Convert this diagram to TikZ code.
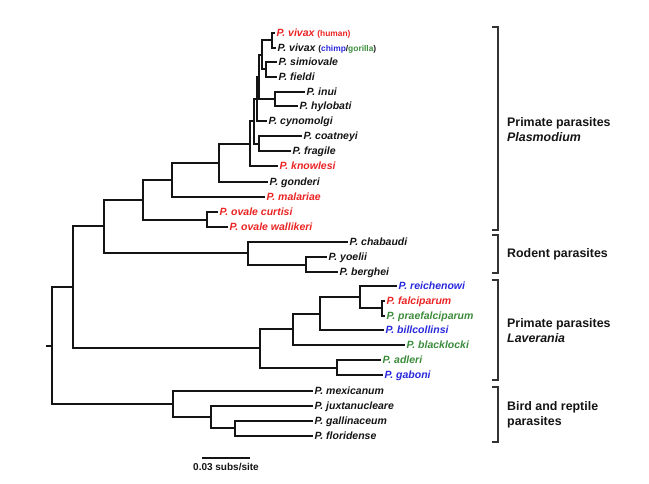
\documentclass[tikz,border=0pt]{standalone}
\usepackage{fontspec}
\setmainfont{Liberation Sans}
\definecolor{pred}{RGB}{235,35,35}
\definecolor{pblue}{RGB}{40,40,220}
\definecolor{pgreen}{RGB}{60,140,60}
\definecolor{ink}{RGB}{20,20,20}
\begin{document}
\begin{tikzpicture}[x=1pt,y=-1pt,
  tree/.style={line width=2.8pt,ink,line join=miter},
  brk/.style={line width=2pt,black!80,line join=miter},
  leaf/.style={anchor=west,inner xsep=1.5pt,inner ysep=0pt,text height=7.4pt,text depth=0.6pt,
    font=\fontsize{10.5}{12}\selectfont\bfseries\itshape,text=ink},
  grp/.style={anchor=west,align=left,inner sep=0pt,text=ink,
    font=\fontsize{12.4}{15}\selectfont\bfseries}]
\useasboundingbox (0,0) rectangle (649,483);
\newcommand{\smf}{\fontsize{8.4}{10}\selectfont\upshape}
% leaves
\node[leaf,text=pred] (vh) at (275,33) {P. vivax {\smf(human)}};
\node[leaf] (vc) at (276,48) {P. vivax {\smf(\textcolor{pblue}{chimp}/\textcolor{pgreen}{gorilla})}};
\node[leaf] (sim) at (277,62) {P. simiovale};
\node[leaf] (fie) at (277,77) {P. fieldi};
\node[leaf] (inu) at (305,92) {P. inui};
\node[leaf] (hyl) at (298,106) {P. hylobati};
\node[leaf] (cyn) at (267,121) {P. cynomolgi};
\node[leaf] (coa) at (302,136) {P. coatneyi};
\node[leaf] (fra) at (291,151) {P. fragile};
\node[leaf,text=pred] (kno) at (278,166) {P. knowlesi};
\node[leaf] (gon) at (268,182) {P. gonderi};
\node[leaf,text=pred] (mal) at (265,197) {P. malariae};
\node[leaf,text=pred] (ovc) at (218,212) {P. ovale curtisi};
\node[leaf,text=pred] (ovw) at (228,227) {P. ovale wallikeri};
\node[leaf] (cha) at (348,242) {P. chabaudi};
\node[leaf] (yoe) at (327,257) {P. yoelii};
\node[leaf] (ber) at (338,272) {P. berghei};
\node[leaf,text=pblue] (rei) at (397,286) {P. reichenowi};
\node[leaf,text=pred] (fal) at (385,301) {P. falciparum};
\node[leaf,text=pgreen] (pra) at (385,316) {P. praefalciparum};
\node[leaf,text=pblue] (bil) at (384,330) {P. billcollinsi};
\node[leaf,text=pgreen] (bla) at (405,345) {P. blacklocki};
\node[leaf,text=pgreen] (adl) at (381,360) {P. adleri};
\node[leaf,text=pblue] (gab) at (383,375) {P. gaboni};
\node[leaf] (mex) at (313,391) {P. mexicanum};
\node[leaf] (jux) at (313,406) {P. juxtanucleare};
\node[leaf] (gal) at (313,421) {P. gallinaceum};
\node[leaf] (flo) at (313,436) {P. floridense};
% internal nodes
\coordinate (vv) at (272,40);
\coordinate (sf) at (266,69);
\coordinate (V) at (262,55);
\coordinate (ih) at (275,99);
\coordinate (Na) at (259,77);
\coordinate (Nb) at (257,99);
\coordinate (cf) at (259,144);
\coordinate (Nc) at (254,121);
\coordinate (N1) at (250,144);
\coordinate (Ng) at (219,163);
\coordinate (Nm) at (172,180);
\coordinate (ov) at (207,220);
\coordinate (Np) at (143,200);
\coordinate (rod2) at (306,265);
\coordinate (rod) at (248,253);
\coordinate (Nt) at (104,226);
\coordinate (ff) at (382,308);
\coordinate (rf) at (360,297);
\coordinate (rfb) at (320,314);
\coordinate (lav) at (293,329);
\coordinate (ag) at (337,368);
\coordinate (lav0) at (260,348);
\coordinate (Nu) at (73,287);
\coordinate (gf) at (235,428);
\coordinate (jg) at (211,417);
\coordinate (bird) at (173,404);
\coordinate (root) at (52,346);
\coordinate (stub) at (46,346);
% branches
\draw[tree] (vv) |- (vh.west) (vv) |- (vc.west)
  (sf) |- (sim.west) (sf) |- (fie.west)
  (V) |- (vv) (V) |- (sf)
  (ih) |- (inu.west) (ih) |- (hyl.west)
  (Na) |- (V) (Na) |- (ih)
  (Nb) |- (Na) (Nb) |- (cyn.west)
  (cf) |- (coa.west) (cf) |- (fra.west)
  (Nc) |- (Nb) (Nc) |- (cf)
  (N1) |- (Nc) (N1) |- (kno.west)
  (Ng) |- (N1) (Ng) |- (gon.west)
  (Nm) |- (Ng) (Nm) |- (mal.west)
  (ov) |- (ovc.west) (ov) |- (ovw.west)
  (Np) |- (Nm) (Np) |- (ov)
  (rod2) |- (yoe.west) (rod2) |- (ber.west)
  (rod) |- (cha.west) (rod) |- (rod2)
  (Nt) |- (Np) (Nt) |- (rod)
  (ff) |- (fal.west) (ff) |- (pra.west)
  (rf) |- (rei.west) (rf) |- (ff)
  (rfb) |- (rf) (rfb) |- (bil.west)
  (lav) |- (rfb) (lav) |- (bla.west)
  (ag) |- (adl.west) (ag) |- (gab.west)
  (lav0) |- (lav) (lav0) |- (ag)
  (Nu) |- (Nt) (Nu) |- (lav0)
  (gf) |- (gal.west) (gf) |- (flo.west)
  (jg) |- (jux.west) (jg) |- (gf)
  (bird) |- (mex.west) (bird) |- (jg)
  (root) |- (Nu) (root) |- (bird)
  (stub) -- (root);
% brackets
\draw[brk] (492,27) -- (498,27) -- (498,230) -- (492,230);
\draw[brk] (492,235) -- (498,235) -- (498,273) -- (492,273);
\draw[brk] (492,280) -- (498,280) -- (498,380) -- (492,380);
\draw[brk] (492,387) -- (498,387) -- (498,442) -- (492,442);
\node[grp] (g1) at (507,129.5) {Primate parasites\\\textit{Plasmodium}};
\node[grp] (g2) at (507,254) {Rodent parasites};
\node[grp] (g3) at (507,330.5) {Primate parasites\\\textit{Laverania}};
\node[grp] (g4) at (507,415) {Bird and reptile\\parasites};
% scale bar
\coordinate (sb1) at (202,458);
\coordinate (sb2) at (250,458);
\draw[tree] (sb1) -- (sb2);
\node[anchor=north,inner sep=0pt,text=ink,font=\fontsize{10}{12}\selectfont\bfseries] (sbl) at (226,463) {0.03 subs/site};
\end{tikzpicture}
\end{document}
